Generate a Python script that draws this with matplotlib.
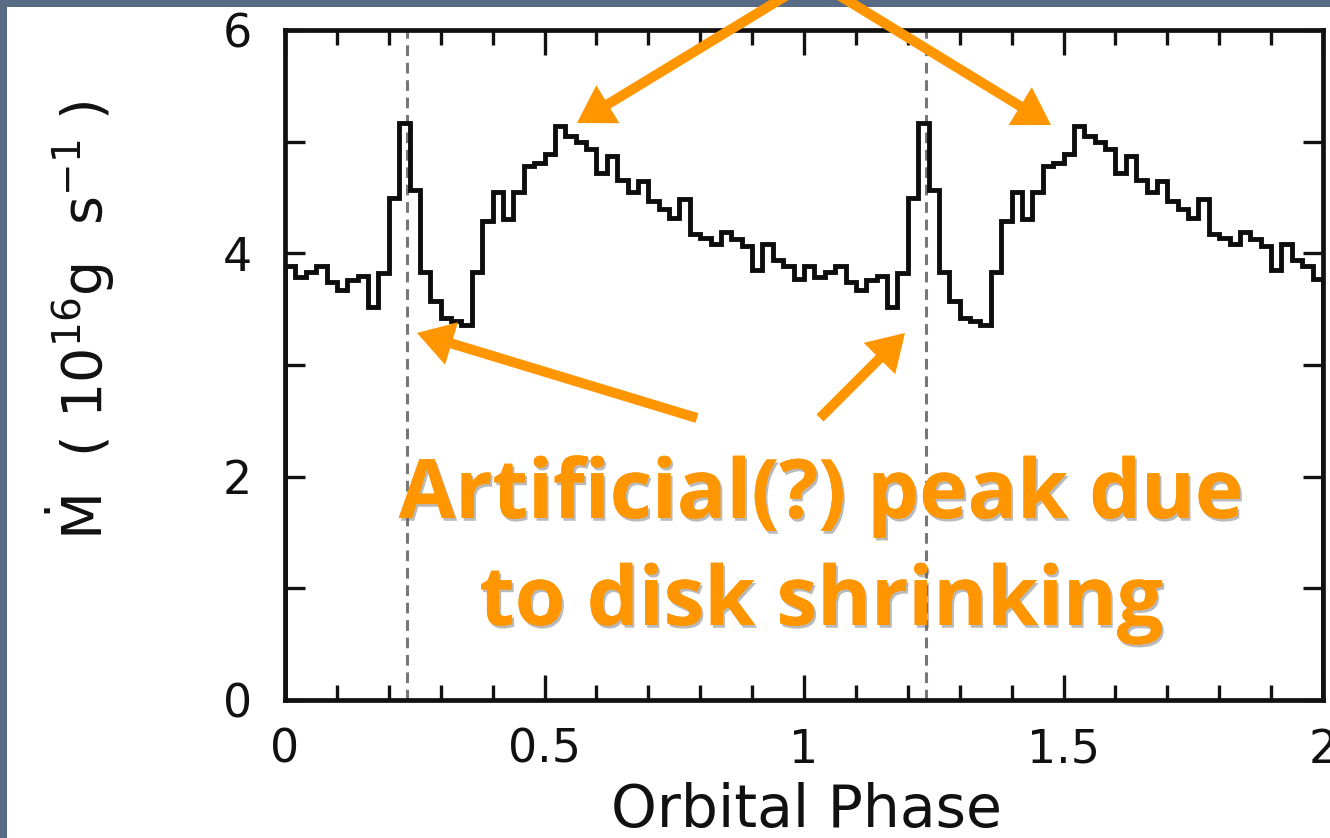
import matplotlib
matplotlib.use('Agg')
import matplotlib.pyplot as plt
import numpy as np
from matplotlib.patches import FancyArrowPatch, Rectangle
from matplotlib.ticker import MultipleLocator
import matplotlib.patheffects as pe

# ---------------- data ----------------
# accretion rate per orbital-phase bin (bin width 0.02), one orbital period
mdot_one_period = [
    3.89, 3.79, 3.83, 3.89, 3.74, 3.67, 3.76, 3.80, 3.52, 3.82,
    4.50, 5.17, 4.57, 3.83, 3.57, 3.42, 3.39, 3.36, 3.83, 4.29,
    4.55, 4.31, 4.55, 4.78, 4.81, 4.89, 5.14, 5.05, 5.00, 4.93,
    4.72, 4.87, 4.66, 4.55, 4.65, 4.47, 4.40, 4.32, 4.49, 4.17,
    4.14, 4.08, 4.19, 4.13, 4.07, 3.85, 4.08, 3.94, 3.89, 3.77,
]
n_periods = 2
mdot = mdot_one_period * n_periods
phase_edges = np.linspace(0, n_periods, len(mdot) + 1)

marker_phases = [0.235, 1.235]

x_ticks = [0, 0.5, 1, 1.5, 2]
x_tick_labels = ['0', '0.5', '1', '1.5', '2']
y_ticks = [0, 2, 4, 6]
y_tick_labels = ['0', '2', '4', '6']

x_label = 'Orbital Phase'
y_label = r'$\dot{\mathrm{M}}$  ( 10$^{16}$g  s$^{-1}$ )'
annotation_lines = ['Artificial(?) peak due', 'to disk shrinking']

# ---------------- figure ----------------
W, H = 1330, 838
fig = plt.figure(figsize=(W / 100, H / 100), dpi=100)
fig.patch.set_facecolor('#586b85')
fig.patches.append(Rectangle((7 / W, 0), 1 - 7 / W, 1 - 7 / H,
                             transform=fig.transFigure, facecolor='white',
                             edgecolor='none', zorder=-10))

ax = fig.add_axes([285 / W, (H - 700) / H, (1323 - 285) / W, 670 / H])
ax.set_facecolor('none')

for xp in marker_phases:
    ax.axvline(xp, color='#777777', lw=2.2, dashes=(3.5, 2.2), zorder=1)

ax.stairs(mdot, phase_edges, color='#0d0d0d', lw=3.5, zorder=2)

ax.set_xlim(0, 2)
ax.set_ylim(0, 6)
ax.set_xticks(x_ticks)
ax.set_xticklabels(x_tick_labels)
ax.set_yticks(y_ticks)
ax.set_yticklabels(y_tick_labels)
ax.xaxis.set_minor_locator(MultipleLocator(0.1))
ax.yaxis.set_minor_locator(MultipleLocator(1))

for s in ax.spines.values():
    s.set_linewidth(3.4)
    s.set_color('#111111')

ax.tick_params(which='both', direction='in', top=True, right=True,
               width=2.4, color='#111111', labelcolor='#111111')
ax.tick_params(axis='x', which='major', length=18, pad=20, labelsize=33)
ax.tick_params(axis='x', which='minor', length=10.8)
ax.tick_params(axis='y', which='both', length=14.4)
ax.tick_params(axis='y', which='major', pad=24, labelsize=33)

fig.text(806 / W, 1 - 810 / H, x_label, ha='center', va='center',
         fontsize=42, color='#111111')
fig.text(80 / W, 1 - 320 / H, y_label, ha='center', va='center',
         rotation=90, fontsize=40, color='#111111')

# ---------------- annotations ----------------
orange = '#ff9600'
baselines = [518, 625]
for line, yb in zip(annotation_lines, baselines):
    fig.text(821 / W, 1 - yb / H, line, ha='center', va='baseline',
             fontsize=59, fontfamily='Open Sans', fontweight='bold',
             color=orange, zorder=5,
             path_effects=[pe.withSimplePatchShadow(offset=(1.5, -2),
                                                    shadow_rgbFace='#666666',
                                                    alpha=0.45),
                           pe.Normal()])

arrow_specs = [((812, -20), (577, 123)),
               ((814, -20), (1051, 125)),
               ((697, 418), (417, 333)),
               ((820, 418), (905, 333))]
for (x1, y1), (x2, y2) in arrow_specs:
    a = FancyArrowPatch(posA=(x1 / W, 1 - y1 / H), posB=(x2 / W, 1 - y2 / H),
                        transform=fig.transFigure,
                        arrowstyle='simple,head_length=26,head_width=32,tail_width=7.2',
                        mutation_scale=1, facecolor=orange, edgecolor='none',
                        shrinkA=0, shrinkB=0, clip_on=False, zorder=10)
    fig.patches.append(a)

fig.savefig('out.png', dpi=100)
